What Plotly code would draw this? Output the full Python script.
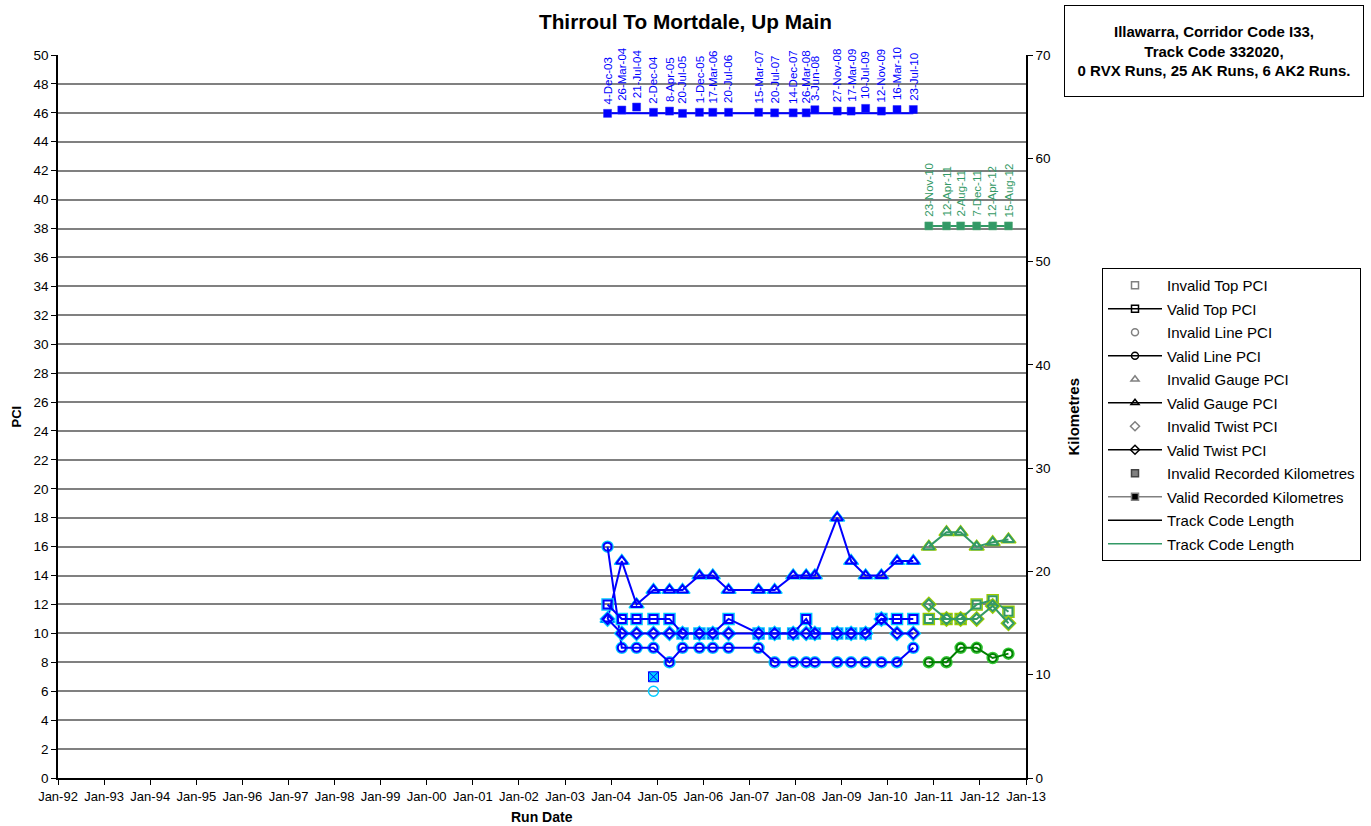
import plotly.graph_objects as go

# ---------------- data ----------------
ak_dates = ["2003-12-04", "2004-03-26", "2004-07-21", "2004-12-02", "2005-04-08",
            "2005-07-20", "2005-12-01", "2006-03-17", "2006-07-20", "2007-03-15",
            "2007-07-20", "2007-12-14", "2008-03-26", "2008-06-03", "2008-11-27",
            "2009-03-17", "2009-07-10", "2009-11-12", "2010-03-16", "2010-07-23"]
ak_labels = ["4-Dec-03", "26-Mar-04", "21-Jul-04", "2-Dec-04", "8-Apr-05",
             "20-Jul-05", "1-Dec-05", "17-Mar-06", "20-Jul-06", "15-Mar-07",
             "20-Jul-07", "14-Dec-07", "26-Mar-08", "3-Jun-08", "27-Nov-08",
             "17-Mar-09", "10-Jul-09", "12-Nov-09", "16-Mar-10", "23-Jul-10"]
ak_top = [12, 11, 11, 11, 11, 10, 10, 10, 11, 10, 10, 10, 11, 10, 10, 10, 10, 11, 11, 11]
ak_line = [16, 9, 9, 9, 8, 9, 9, 9, 9, 9, 8, 8, 8, 8, 8, 8, 8, 8, 8, 9]
ak_gauge = [11, 15, 12, 13, 13, 13, 14, 14, 13, 13, 13, 14, 14, 14, 18, 15, 14, 14, 15, 15]
ak_twist = [11, 10, 10, 10, 10, 10, 10, 10, 10, 10, 10, 10, 10, 10, 10, 10, 10, 11, 10, 10]
ak_km = [64.35, 64.67, 64.96, 64.45, 64.57, 64.35, 64.45, 64.45, 64.45, 64.45,
         64.40, 64.40, 64.40, 64.70, 64.57, 64.57, 64.83, 64.57, 64.72, 64.72]
ak_track_len = 64.35

ak2_dates = ["2010-11-23", "2011-04-12", "2011-08-02", "2011-12-07", "2012-04-12", "2012-08-15"]
ak2_labels = ["23-Nov-10", "12-Apr-11", "2-Aug-11", "7-Dec-11", "12-Apr-12", "15-Aug-12"]
ak2_top = [11, 11, 11, 12, 12.3, 11.5]
ak2_line = [8, 8, 9, 9, 8.3, 8.6]
ak2_gauge = [16, 17, 17, 16, 16.3, 16.5]
ak2_twist = [12, 11, 11, 11, 11.9, 10.7]
ak2_km = [53.45, 53.45, 53.45, 53.45, 53.45, 53.45]
ak2_track_len = 53.45

inv_dates = ["2004-12-02"]
inv_top = [7]
inv_line = [6]

title_text = "Thirroul To Mortdale, Up Main"
info_lines = ["Illawarra, Corridor Code I33,", "Track Code 332020,",
              "0 RVX Runs, 25 AK Runs, 6 AK2 Runs."]

FONT = "Arial, Liberation Sans, sans-serif"
BLUE = "#0000FF"
CYAN = "#00CCFF"
SEA = "#339966"
YG = "#99CC00"
DKG = "#008000"
LG = "#33CC33"

# plot-area geometry in pixels
PL, PR, PT, PB = 58, 1026, 55, 778
W, H = 1371, 826
PW, PH = PR - PL, PB - PT

fig = go.Figure()


def add_series(x, y, symbol, size, color, halo, linecolor):
    fig.add_trace(go.Scatter(x=x, y=y, mode="markers", showlegend=False, hoverinfo="skip",
                             marker=dict(symbol=symbol + "-open", size=size + 3, color=halo,
                                         line=dict(width=1.5))))
    fig.add_trace(go.Scatter(x=x, y=y, mode="lines+markers", showlegend=False,
                             line=dict(color=linecolor, width=2),
                             marker=dict(symbol=symbol + "-open", size=size, color=color,
                                         line=dict(width=2))))


# AK (blue)
add_series(ak_dates, ak_gauge, "triangle-up", 10, BLUE, CYAN, BLUE)
add_series(ak_dates, ak_line, "circle", 8, BLUE, CYAN, BLUE)
add_series(ak_dates, ak_top, "square", 8, BLUE, CYAN, BLUE)
add_series(ak_dates, ak_twist, "diamond", 8, BLUE, CYAN, BLUE)
# AK2 (green)
add_series(ak2_dates, ak2_gauge, "triangle-up", 10, SEA, YG, SEA)
add_series(ak2_dates, ak2_line, "circle", 8, DKG, LG, DKG)
add_series(ak2_dates, ak2_top, "square", 8, SEA, YG, SEA)
add_series(ak2_dates, ak2_twist, "diamond", 8, SEA, YG, SEA)

# invalid points
fig.add_trace(go.Scatter(x=inv_dates, y=inv_top, mode="markers", showlegend=False,
                         marker=dict(symbol="square-x", size=10, color=CYAN,
                                     line=dict(color=BLUE, width=1))))
fig.add_trace(go.Scatter(x=inv_dates, y=inv_line, mode="markers", showlegend=False,
                         marker=dict(symbol="circle-open", size=10, color=CYAN,
                                     line=dict(width=1.5))))

# kilometres (secondary axis)
fig.add_trace(go.Scatter(x=[ak_dates[0], ak_dates[-1]], y=[ak_track_len, ak_track_len],
                         yaxis="y2", mode="lines", showlegend=False,
                         line=dict(color=BLUE, width=2)))
fig.add_trace(go.Scatter(x=ak_dates, y=ak_km, yaxis="y2", mode="markers", showlegend=False,
                         marker=dict(symbol="square", size=8, color=BLUE,
                                     line=dict(color="#2222FF", width=0.5))))
fig.add_trace(go.Scatter(x=[ak2_dates[0], ak2_dates[-1]], y=[ak2_track_len, ak2_track_len],
                         yaxis="y2", mode="lines", showlegend=False,
                         line=dict(color=SEA, width=2)))
fig.add_trace(go.Scatter(x=ak2_dates, y=ak2_km, yaxis="y2", mode="markers", showlegend=False,
                         marker=dict(symbol="square", size=8, color=SEA,
                                     line=dict(color="#55AA77", width=0.5))))

annotations = []
for d, k, t in zip(ak_dates, ak_km, ak_labels):
    annotations.append(dict(x=d, y=k, xref="x", yref="y2", text=t, showarrow=False,
                            textangle=-90, yanchor="bottom", xanchor="center", yshift=7,
                            font=dict(family=FONT, size=11.5, color=BLUE)))
for d, k, t in zip(ak2_dates, ak2_km, ak2_labels):
    annotations.append(dict(x=d, y=k, xref="x", yref="y2", text=t, showarrow=False,
                            textangle=-90, yanchor="bottom", xanchor="center", yshift=7,
                            font=dict(family=FONT, size=11.5, color=SEA)))

# info box (top right)
annotations.append(dict(x=1, y=1, xref="paper", yref="paper",
                        xshift=1214 - PR, yshift=PT - 51,
                        text="<br>".join("<b>%s</b>" % s for s in info_lines),
                        showarrow=False, xanchor="center", yanchor="middle",
                        width=296, height=88, bordercolor="black", borderwidth=1,
                        bgcolor="white", align="center",
                        font=dict(family=FONT, size=15, color="black")))
# axis titles
annotations.append(dict(x=0, y=0.5, xref="paper", yref="paper", xshift=16 - PL,
                        text="<b>PCI</b>", textangle=-90, showarrow=False,
                        xanchor="center", yanchor="middle",
                        font=dict(family=FONT, size=13, color="black")))
annotations.append(dict(x=1, y=0.5, xref="paper", yref="paper", xshift=1073 - PR,
                        text="<b>Kilometres</b>", textangle=-90, showarrow=False,
                        xanchor="center", yanchor="middle",
                        font=dict(family=FONT, size=15, color="black")))
annotations.append(dict(x=0.5, y=0, xref="paper", yref="paper", yshift=PB - 817,
                        text="<b>Run Date</b>", showarrow=False,
                        xanchor="center", yanchor="middle",
                        font=dict(family=FONT, size=14, color="black")))

# legend-only entries
legend_entries = [
    ("Invalid Top PCI", "markers", "square-open", "#808080", None),
    ("Valid Top PCI", "lines+markers", "square-open", "black", "black"),
    ("Invalid Line PCI", "markers", "circle-open", "#808080", None),
    ("Valid Line PCI", "lines+markers", "circle-open", "black", "black"),
    ("Invalid Gauge PCI", "markers", "triangle-up-open", "#808080", None),
    ("Valid Gauge PCI", "lines+markers", "triangle-up-open", "black", "black"),
    ("Invalid Twist PCI", "markers", "diamond-open", "#808080", None),
    ("Valid Twist PCI", "lines+markers", "diamond-open", "black", "black"),
    ("Invalid Recorded Kilometres", "markers", "square", "#808080", None),
    ("Valid Recorded Kilometres", "lines+markers", "square", "black", "#808080"),
    ("Track Code Length", "lines", None, None, "black"),
    ("Track Code Length", "lines", None, None, SEA),
]
for i, (name, mode, sym, mcol, lcol) in enumerate(legend_entries):
    kw = dict(x=[None], y=[None], mode=mode, name=name, legendgroup="g%d" % i, showlegend=True)
    if sym:
        kw["marker"] = dict(symbol=sym, size=7, color=mcol, line=dict(width=1.5))
    if lcol:
        kw["line"] = dict(color=lcol, width=1.5)
    fig.add_trace(go.Scatter(**kw))

fig.update_layout(
    width=W, height=H,
    margin=dict(l=PL, r=W - PR, t=PT, b=H - PB, autoexpand=False),
    paper_bgcolor="white", plot_bgcolor="white",
    font=dict(family=FONT, size=12, color="black"),
    title=dict(text="<b>" + title_text + "</b>", x=0.5, xref="container", y=1 - 22 / H,
               yref="container", xanchor="center", yanchor="middle",
               font=dict(family=FONT, size=20.8, color="black")),
    xaxis=dict(type="date", range=["1992-01-01", "2013-01-01"], tick0="1992-01-01",
               dtick="M12", tickformat="%b-%y", ticks="outside", ticklen=5,
               tickcolor="black", showline=True, linecolor="black", linewidth=2,
               showgrid=False, zeroline=False, automargin=False,
               tickfont=dict(family=FONT, size=13)),
    yaxis=dict(range=[0, 50], dtick=2, ticks="outside", ticklen=5, tickcolor="black",
               showline=True, linecolor="black", linewidth=1.5, automargin=False,
               showgrid=True, gridcolor="#808080", gridwidth=1.5, zeroline=False,
               tickfont=dict(family=FONT, size=13.5)),
    yaxis2=dict(range=[0, 70], dtick=10, overlaying="y", side="right", ticks="outside",
                ticklen=5, tickcolor="black", showline=True, linecolor="black",
                linewidth=1.5, showgrid=False, zeroline=False, automargin=False,
                tickfont=dict(family=FONT, size=13.5)),
    legend=dict(x=(1102 - PL) / PW, y=(PB - 268) / PH, xanchor="left", yanchor="top",
                bordercolor="black", borderwidth=1, bgcolor="white", itemwidth=54,
                tracegroupgap=1, font=dict(family=FONT, size=15)),
    annotations=annotations,
)

fig.write_html("out.html", config={"displayModeBar": False},
               post_script="document.body.style.margin='0';")
